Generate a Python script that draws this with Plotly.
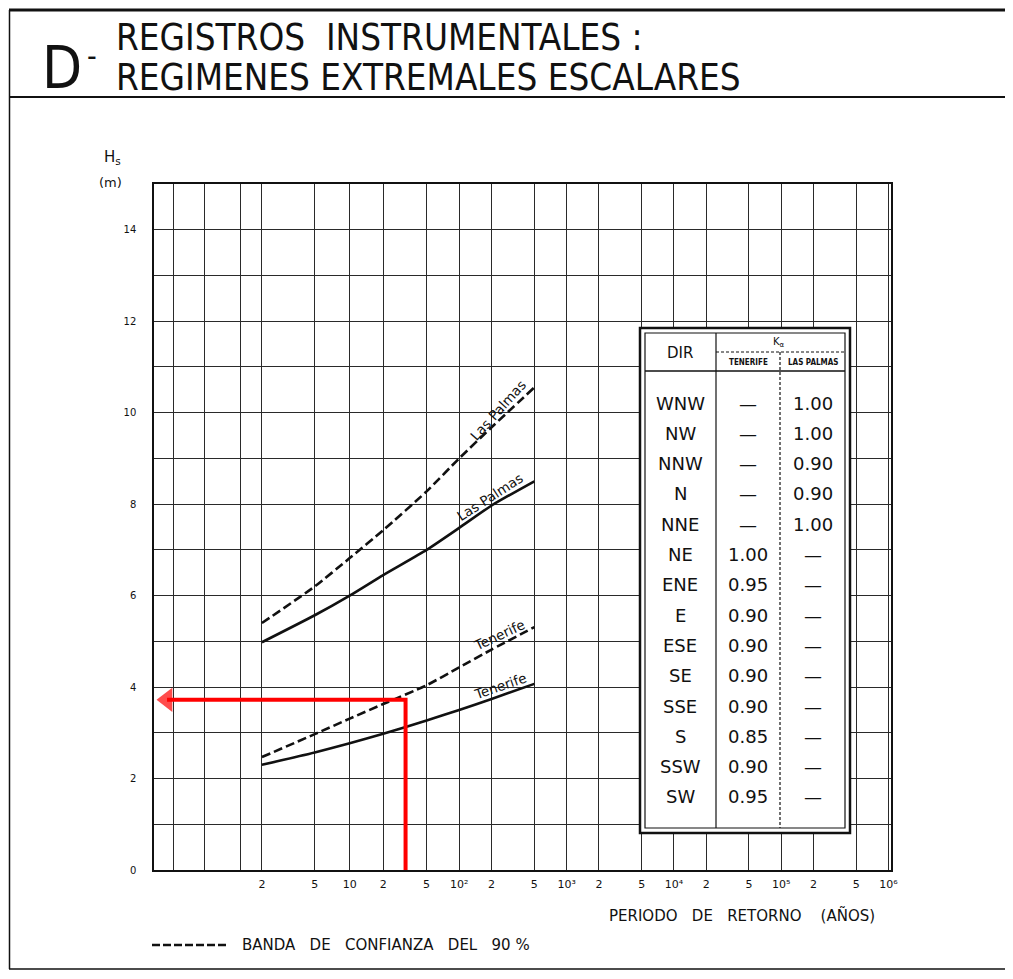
import numpy as np
import plotly.graph_objects as go

# ---------------- data ----------------
return_periods = [2, 5, 10, 20, 50, 100, 200, 500]
lp_central = [4.98, 5.57, 6.00, 6.45, 7.00, 7.48, 7.97, 8.50]
lp_upper = [5.40, 6.20, 6.82, 7.43, 8.28, 9.00, 9.68, 10.55]
tf_central = [2.30, 2.57, 2.77, 2.98, 3.27, 3.50, 3.74, 4.07]
tf_upper = [2.47, 2.97, 3.31, 3.63, 4.04, 4.43, 4.82, 5.31]

label_periods = [2, 5, 10, 20, 50, 100, 200, 500, 1e3, 2e3, 5e3,
                 1e4, 2e4, 5e4, 1e5, 2e5, 5e5, 1e6]
label_texts = ["2", "5", "10", "2", "5", "10²", "2", "5", "10³", "2", "5",
               "10⁴", "2", "5", "10⁵", "2", "5", "10⁶"]
extra_grid_periods = [1.01, 1.1, 1.5]
hs_ticks = [0, 2, 4, 6, 8, 10, 12, 14]

example_period = 32
example_hs = 3.72

directions = ["WNW", "NW", "NNW", "N", "NNE", "NE", "ENE", "E", "ESE", "SE", "SSE", "S", "SSW", "SW"]
k_tenerife = ["—", "—", "—", "—", "—", "1.00", "0.95", "0.90", "0.90", "0.90", "0.90", "0.85", "0.90", "0.95"]
k_laspalmas = ["1.00", "1.00", "0.90", "0.90", "1.00", "—", "—", "—", "—", "—", "—", "—", "—", "—"]


def gumbel(T):
    T = np.asarray(T, dtype=float)
    return -np.log(-np.log(1.0 - 1.0 / T))


XMIN, XMAX = -1.95, 13.87
YMIN, YMAX = 0, 15

# plot-area frame in page pixels; the page body adds an 8 px margin
OFF = 8
L, R, TOP, BOT = 154, 891, 184, 870
W, H = 1013 - 2 * OFF, 979 - 2 * OFF


def px(x):
    return (x - L) / (R - L)


def py(y):
    return (BOT - y) / (BOT - TOP)


BLACK = "#111111"
GRID = "#2a2a2a"
FONT = "Liberation Sans Narrow, DejaVu Sans Condensed, sans-serif"
TFONT = "DejaVu Sans, sans-serif"

fig = go.Figure()

xr = gumbel(return_periods)
curve_style = dict(color=BLACK, width=2.6, shape="spline", smoothing=0.6)
fig.add_trace(go.Scatter(x=xr, y=lp_upper, mode="lines",
                         line=dict(dash="9px,4px", **curve_style), showlegend=False))
fig.add_trace(go.Scatter(x=xr, y=lp_central, mode="lines",
                         line=dict(**curve_style), showlegend=False))
fig.add_trace(go.Scatter(x=xr, y=tf_upper, mode="lines",
                         line=dict(dash="9px,4px", **curve_style), showlegend=False))
fig.add_trace(go.Scatter(x=xr, y=tf_central, mode="lines",
                         line=dict(**curve_style), showlegend=False))

# red reading example: vertical from the axis, horizontal back to the Hs axis with arrowhead
xe = float(gumbel(example_period))
fig.add_trace(go.Scatter(x=[xe, xe, XMIN + 0.28], y=[0, example_hs, example_hs],
                         mode="lines+markers",
                         line=dict(color="#ff0000", width=4),
                         marker=dict(symbol="triangle-left", size=[0, 0, 21], color="#ff0000",
                                     line=dict(width=0)),
                         showlegend=False))

annotations = []


def note(x, y, text, size, family=TFONT, xanchor="center", **kw):
    annotations.append(dict(x=px(x), y=py(y), xref="paper", yref="paper", text=text,
                            showarrow=False, xanchor=xanchor, yanchor="middle",
                            font=dict(family=family, size=size, color=BLACK), **kw))


# curve labels
def label_on(series, T, text, angle, xs, ys):
    xv = float(gumbel(T))
    yv = float(np.interp(xv, xr, series))
    annotations.append(dict(x=xv, y=yv, xref="x", yref="y", text=text, showarrow=False,
                            xanchor="center", yanchor="middle",
                            textangle=angle, xshift=xs, yshift=ys,
                            font=dict(family=TFONT, size=13.5, color=BLACK)))


label_on(lp_upper, 250, "Las Palmas", -48, -4, 8)
label_on(lp_central, 200, "Las Palmas", -33, -2, 9)
label_on(tf_upper, 250, "Tenerife", -25, -3, 9)
label_on(tf_central, 250, "Tenerife", -19, -2, 9)

# title
note(62, 68, "D", 58, family=FONT)
note(92, 56, "-", 30, family=FONT)
note(114, 37, "REGISTROS  INSTRUMENTALES :", 36.5, family=FONT, xanchor="left")
note(114, 77, "REGIMENES EXTREMALES ESCALARES", 36.5, family=FONT, xanchor="left")

# axis titles / key
note(112, 157, "H<sub>s</sub>", 15)
note(110, 183, "(m)", 13)
note(742, 915, "PERIODO   DE   RETORNO    (AÑOS)", 15)
note(240, 945, "BANDA   DE   CONFIANZA   DEL   90 %", 15, xanchor="left")


def pline(x0, y0, x1, y1, width, dash="solid"):
    return dict(type="line", xref="paper", yref="paper", x0=px(x0), x1=px(x1),
                y0=py(y0), y1=py(y1), line=dict(color=BLACK, width=width, dash=dash),
                layer="above")


shapes = [
    pline(9, 10, 1013, 10, 3),
    pline(9, 97, 1013, 97, 2),
    pline(9.5, 10, 9.5, 969, 1.5),
    pline(9, 969, 1013, 969, 1.5),
    pline(152, 945, 226, 945, 2.5, "8px,3px"),
]

# table
TX0, TX1, TY0, TY1 = 640, 850, 328, 833
shapes += [
    dict(type="rect", xref="paper", yref="paper", x0=px(TX0), x1=px(TX1), y0=py(TY0), y1=py(TY1),
         fillcolor="white", line=dict(color=BLACK, width=2.5), layer="above"),
    dict(type="rect", xref="paper", yref="paper", x0=px(TX0 + 5), x1=px(TX1 - 5),
         y0=py(TY0 + 5), y1=py(TY1 - 5), line=dict(color=BLACK, width=1.2), layer="above"),
    pline(716, TY0 + 5, 716, TY1 - 5, 1.2),
    pline(780, 352, 780, TY1 - 5, 1.2, "3px,2px"),
    pline(716, 352, TX1 - 5, 352, 1, "3px,2px"),
    pline(TX0 + 5, 371, TX1 - 5, 371, 1.5),
]

note(680, 353, "DIR", 15)
note(779, 342, "K<sub>α</sub>", 10)
note(748, 362, "<b>TENERIFE</b>", 8, family=FONT)
note(813, 362, "<b>LAS PALMAS</b>", 8, family=FONT)

for i, (d, kt, kl) in enumerate(zip(directions, k_tenerife, k_laspalmas)):
    yrow = 403 + i * 30.3
    note(680, yrow, d, 18)
    note(748, yrow, kt, 18)
    note(813, yrow, kl, 18)

fig.update_layout(
    width=W, height=H, autosize=False,
    margin=dict(l=L - OFF, r=W - (R - OFF), t=TOP - OFF, b=H - (BOT - OFF), pad=0),
    paper_bgcolor="white", plot_bgcolor="white",
    showlegend=False,
    shapes=shapes, annotations=annotations,
    xaxis=dict(range=[XMIN, XMAX], tickmode="array", tickvals=gumbel(label_periods).tolist(),
               ticktext=label_texts, showgrid=True, gridcolor=GRID, gridwidth=1,
               minor=dict(tickmode="array", tickvals=gumbel(extra_grid_periods).tolist(),
                          showgrid=True, gridcolor=GRID, gridwidth=1, ticks=""),
               zeroline=False, showline=True, linecolor=BLACK, linewidth=1.5, mirror=True,
               ticks="", ticklabelstandoff=3,
               tickfont=dict(family=TFONT, size=11, color=BLACK)),
    yaxis=dict(range=[YMIN, YMAX], tickmode="array", tickvals=hs_ticks,
               showgrid=True, gridcolor=GRID, gridwidth=1,
               minor=dict(dtick=1, showgrid=True, gridcolor=GRID, gridwidth=1, ticks=""),
               zeroline=False,
               showline=True, linecolor=BLACK, linewidth=1.5, mirror=True,
               ticks="", ticklabelstandoff=14,
               tickfont=dict(family=TFONT, size=10, color=BLACK)),
)

fig.write_html("out.html")
